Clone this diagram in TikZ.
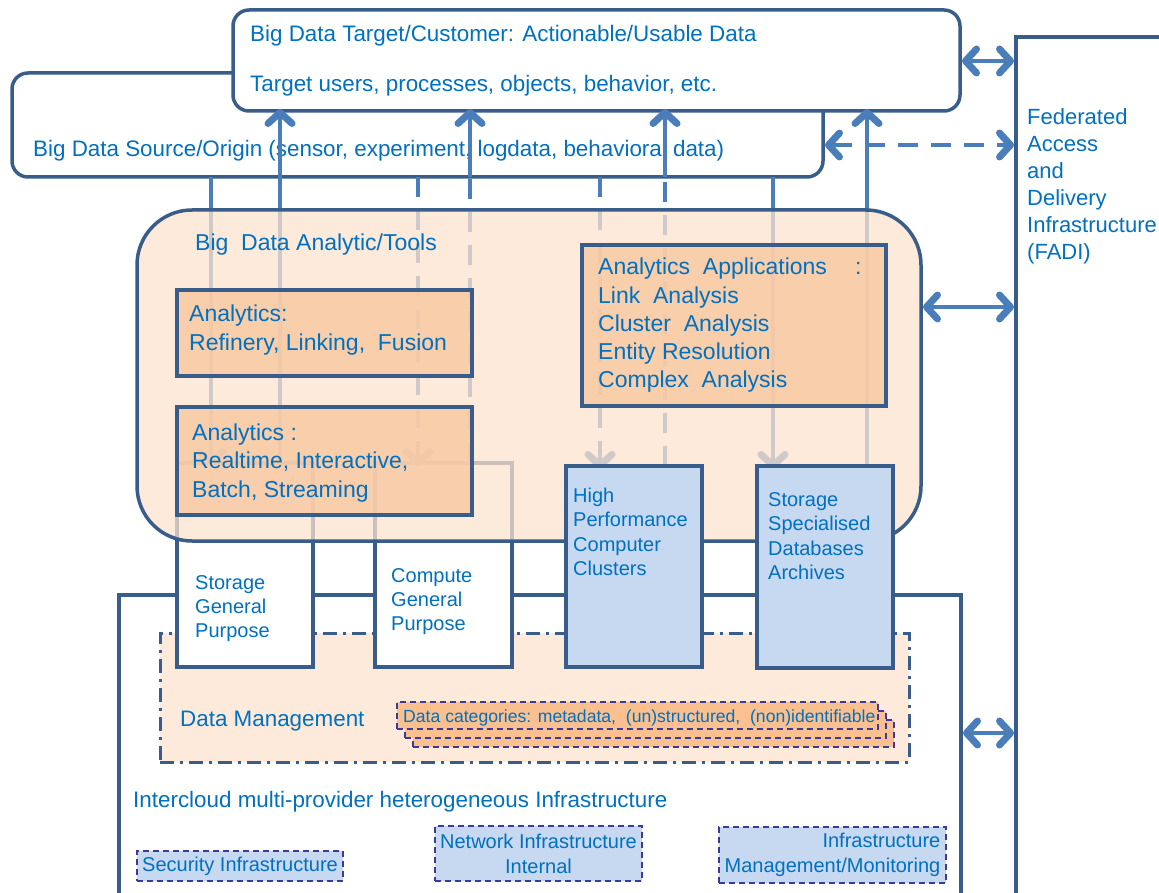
\documentclass[tikz,border=0pt]{standalone}
\usepackage{fontspec}
\setmainfont{Liberation Sans}
\usetikzlibrary{arrows.meta}
\definecolor{bdr}{HTML}{385D8A}
\definecolor{arw}{HTML}{4A7EBB}
\definecolor{txt}{HTML}{0070C0}
\definecolor{peach}{HTML}{FDEADA}
\definecolor{peachT}{RGB}{252,227,206}
\definecolor{orng}{HTML}{F8CAA4}
\definecolor{dcat}{HTML}{FAC090}
\definecolor{lblue}{HTML}{C6D9F1}
\definecolor{indig}{HTML}{3A3A9C}
\newcommand\fsz[1]{\fontsize{#1}{#1}\selectfont}
% name, x, y of first baseline, line step, font, list of lines
\newcommand\textlines[6]{%
  \foreach \t [count=\i from 0] in {#6} {\node[lbl,font=#5] (#1\i) at (#2,{#3+#4*\i}) {\t};}}
\begin{document}
\begin{tikzpicture}[x=1pt,y=-1pt,
  box/.style={draw=bdr, line width=3.5pt, rectangle, anchor=north west, inner sep=0pt, outer sep=0pt},
  dmbox/.style={draw=bdr, line width=3pt, fill=peach, rectangle, anchor=north west, inner sep=0pt, outer sep=0pt,
    dash pattern=on 14pt off 6pt on 3pt off 6pt},
  dbox/.style={draw=indig, line width=2pt, dash pattern=on 6pt off 4pt, rectangle, anchor=north west,
    inner sep=0pt, outer sep=0pt, text=txt},
  lbl/.style={text=txt, inner sep=0pt, anchor=base west},
  tip/.tip={Straight Barb[length=11pt,width=24pt,line width=7pt,round]},
  arr/.style={draw=arw, line width=4.5pt, -tip},
  dline/.style={draw=arw, line width=4.5pt, dash pattern=on 20pt off 13pt},
  darr/.style={draw=arw, line width=4.5pt, tip-tip},
  font=\fsz{22.4}]
\useasboundingbox (0,0) rectangle (1159,893);

% source and target layers
\node[box, rounded corners=16pt, fill=white, minimum width=811pt, minimum height=104pt] (src) at (12,73) {};
\node[lbl] (srct) at (33,157) {Big Data Source/Origin (sensor, experiment, logdata, behavioral data)};
\node[box, rounded corners=16pt, fill=white, minimum width=727pt, minimum height=101pt] (tgt) at (233,10) {};
\node[lbl] (tgt1) at (250,42) {Big Data Target/Customer: Actionable/Usable Data};
\node[lbl] (tgt2) at (250,92) {Target users, processes, objects, behavior, etc.};

% federated access column
\node[box, fill=white, minimum width=300pt, minimum height=1000pt] (fadi) at (1016,37) {};
\textlines{fadit}{1027}{125}{27}{\fsz{22}}{Federated,Access,and,Delivery,Infrastructure,(FADI)}

% infrastructure layer
\node[box, fill=white, minimum width=842pt, minimum height=400pt] (icl) at (119,595) {};
\node[lbl] (iclt) at (133,807) {Intercloud multi-provider heterogeneous Infrastructure};

% data management
\node[dmbox, minimum width=749pt, minimum height=129pt] (dm) at (160,633) {};
\node[lbl] (dmt) at (180,726) {Data Management};
\node[dbox, fill=dcat, minimum width=481pt, minimum height=27pt] (dc3) at (413,720) {};
\node[dbox, fill=dcat, minimum width=481pt, minimum height=27pt] (dc2) at (405,711) {};
\node[dbox, fill=dcat, minimum width=481pt, minimum height=27pt] (dc1) at (397,702) {};
\node[lbl, font=\fsz{17.6}] (dct) at (403,722) {Data categories: metadata,\ \ (un)structured,\ \ (non)identifiable};

% infrastructure services
\node[dbox, fill=lblue, minimum width=206pt, minimum height=30pt, font=\fsz{20}] (sec) at (137,851) {Security Infrastructure};
\node[dbox, fill=lblue, minimum width=207pt, minimum height=55pt, align=center, font=\fontsize{20}{25}\selectfont] (net) at (435,826) {Network Infrastructure\\Internal};
\node[dbox, fill=lblue, minimum width=227pt, minimum height=56pt, align=right, font=\fontsize{20}{25}\selectfont] (imm) at (719,827) {Infrastructure\\Management/Monitoring};

% general purpose resources
\node[box, fill=white, minimum width=136pt, minimum height=204pt] (sgp) at (177,463) {};
\node[box, fill=white, minimum width=137pt, minimum height=204pt] (cgp) at (375,463) {};
\textlines{sgpt}{195}{589}{24}{\fsz{20}}{Storage,General,Purpose}
\textlines{cgpt}{391}{582}{24}{\fsz{20}}{Compute,General,Purpose}

% data flows between layers
\coordinate (k1) at (211,0);
\coordinate (k2) at (280,0);
\coordinate (k3) at (418,0);
\coordinate (k4) at (470,0);
\coordinate (k5) at (600,0);
\coordinate (k6) at (665,0);
\coordinate (k7) at (773,0);
\coordinate (k8) at (867,0);
\coordinate (hpctop) at (634,466);
\coordinate (ssdtop) at (825,466);
\draw[arr] (src.south -| k1) -- ([yshift=-3pt]sgp.north -| k1);
\draw[arr] (sgp.north -| k2) -- ([yshift=2pt]tgt.south -| k2);
\draw[arr, dash pattern=on 20pt off 13pt] (src.south -| k3) -- ([yshift=-3pt]cgp.north -| k3);
\draw[dline] (cgp.north -| k4) -- (src.south -| k4);
\draw[arr] (src.south -| k4) -- ([yshift=2pt]tgt.south -| k4);
\draw[arr, dash pattern=on 20pt off 13pt] (src.south -| k5) -- ([yshift=-3pt]hpctop -| k5);
\draw[arr] (src.south -| k7) -- ([yshift=-3pt]ssdtop -| k7);
\draw[dline] (hpctop -| k6) -- (src.south -| k6);
\draw[arr] (src.south -| k6) -- ([yshift=2pt]tgt.south -| k6);
\draw[arr] (ssdtop -| k8) -- ([yshift=2pt]tgt.south -| k8);

% analytics layer
\node[box, rounded corners=55pt, fill=peachT, fill opacity=0.75, minimum width=784pt, minimum height=331pt] (ana) at (137,210) {};
\node[lbl, font=\fsz{23}] (anat) at (195,251) {Big\ \ Data Analytic/Tools};
\node[box, fill=orng, fill opacity=0.85, minimum width=295pt, minimum height=86pt] (a1) at (177,290) {};
\node[box, fill=orng, fill opacity=0.85, minimum width=295pt, minimum height=108pt] (a2) at (177,407) {};
\node[box, fill=orng, fill opacity=0.85, minimum width=304pt, minimum height=161pt] (aapp) at (582,245) {};
\textlines{a1t}{189}{321}{29}{\fsz{23}}{Analytics:,{Refinery, Linking,\ \ Fusion}}
\textlines{a2t}{192}{440}{28.5}{\fsz{23}}{Analytics :,{Realtime, Interactive,},{Batch, Streaming}}
\textlines{aappt}{598}{275}{28.2}{\fsz{23}}{Analytics\ \ Applications\hspace{28pt}:,Link\ \ Analysis,Cluster\ \ Analysis,Entity Resolution,Complex\ \ Analysis}

% specialised resources
\node[box, fill=lblue, minimum width=136pt, minimum height=201pt] (hpc) at (566,466) {};
\node[box, fill=lblue, minimum width=136pt, minimum height=202pt] (ssd) at (757,466) {};
\textlines{hpct}{573}{502}{24.5}{\fsz{20}}{High,Performance,Computer,Clusters}
\textlines{ssdt}{768}{506}{24.5}{\fsz{20}}{Storage,Specialised,Databases,Archives}

% links to the federated access column
\coordinate (h1) at (0,61);
\coordinate (h2) at (0,145);
\coordinate (h3) at (0,307);
\coordinate (h4) at (0,733);
\draw[darr] ([xshift=2pt]tgt.east |- h1) -- ([xshift=-2pt]fadi.west |- h1);
\draw[darr, dash pattern=on 20pt off 13pt] ([xshift=2pt]src.east |- h2) -- ([xshift=-2pt]fadi.west |- h2);
\draw[darr] ([xshift=2pt]ana.east |- h3) -- ([xshift=-2pt]fadi.west |- h3);
\draw[darr] ([xshift=2pt]icl.east |- h4) -- ([xshift=-2pt]fadi.west |- h4);
\end{tikzpicture}
\end{document}
